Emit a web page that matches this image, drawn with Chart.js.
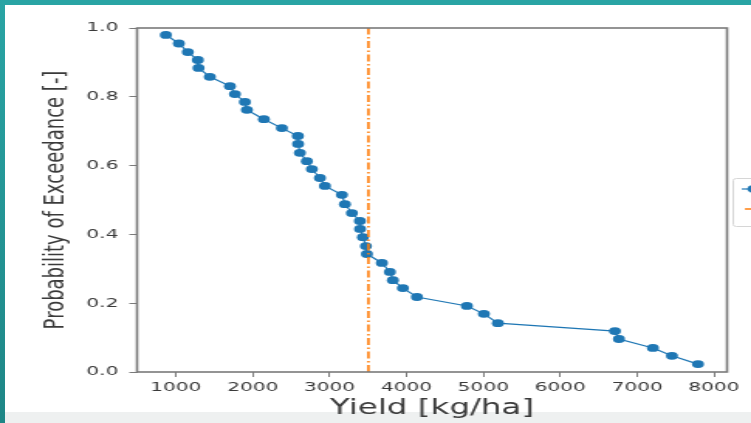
<!DOCTYPE html>
<html>
<head>
<meta charset="utf-8">
<script src="https://cdn.jsdelivr.net/npm/chart.js@4.4.1/dist/chart.umd.min.js"></script>
<style>
  html, body { margin: 0; padding: 0; width: 751px; height: 423px; overflow: hidden; background: #fff; }
  .band { position: absolute; }
  #top { left: 0; top: 0; width: 751px; height: 5px; background: #29a4a4; z-index: 2; }
  #left { left: 0; top: 0; width: 5px; height: 423px; background: linear-gradient(#29a4a4, #1e8686); z-index: 2; }
  #bottom { left: 5px; top: 412px; width: 746px; height: 11px; background: #eef0f0; z-index: 0; }
  /* the source picture is a matplotlib figure stretched sideways, so the canvas is too */
  #wrap { position: absolute; left: 0; top: 0; width: 485px; height: 423px; transform: scaleX(1.5485); transform-origin: 0 0; z-index: 1; }
</style>
</head>
<body>
<div class="band" id="bottom"></div>
<div id="wrap"><canvas id="chart" width="485" height="423"></canvas></div>
<div class="band" id="top"></div>
<div class="band" id="left"></div>
<script>
const yields = [870, 1039, 1156, 1286, 1295, 1442, 1703, 1768, 1898, 1924,
  2145, 2379, 2587, 2590, 2613, 2704, 2769, 2874, 2939, 3160,
  3199, 3290, 3394, 3396, 3433, 3472, 3485, 3680, 3784, 3823,
  3953, 4136, 4786, 5007, 5189, 6712, 6764, 7206, 7453, 7792]
const exceedance = [0.980, 0.955, 0.930, 0.907, 0.884, 0.858, 0.831, 0.808, 0.785, 0.762,
  0.735, 0.709, 0.686, 0.663, 0.637, 0.613, 0.590, 0.564, 0.541, 0.515,
  0.488, 0.462, 0.439, 0.416, 0.392, 0.366, 0.343, 0.317, 0.291, 0.267,
  0.244, 0.218, 0.192, 0.169, 0.142, 0.119, 0.096, 0.070, 0.047, 0.023]
const meanYield = 3505
const xTicks = [1000, 2000, 3000, 4000, 5000, 6000, 7000, 8000]
const yTicks = [0, 0.2, 0.4, 0.6, 0.8, 1.0]

const textColor = "#3a3a3a"
const spineColor = "#7a7a7a"
const blue = "#1f77b4"
const orange = "#ff7f0e"

// top and right spines, drawn over the data like matplotlib does
const framePlugin = {
  id: "frame",
  afterDraw(chart) {
    const { ctx, chartArea: a } = chart
    ctx.save()
    ctx.strokeStyle = spineColor
    ctx.lineWidth = 1.6
    ctx.strokeRect(a.left, a.top, a.right - a.left, a.bottom - a.top)
    ctx.restore()
  },
}

// legend sits past the right edge of the picture, only its start shows
const legendStub = {
  id: "legendStub",
  afterDraw(chart) {
    const { ctx } = chart
    ctx.save()
    ctx.fillStyle = "rgba(255,255,255,0.85)"
    ctx.strokeStyle = "#d6d6d6"
    ctx.lineWidth = 1
    ctx.beginPath()
    ctx.roundRect(473.5, 178.5, 40, 48, 2)
    ctx.fill()
    ctx.stroke()
    chart.data.datasets.forEach((ds, i) => {
      const y = 189 + i * 20
      ctx.strokeStyle = ds.borderColor
      ctx.lineWidth = ds.borderWidth
      ctx.setLineDash(ds.borderDash || [])
      ctx.beginPath()
      ctx.moveTo(479 + i * 2, y)
      ctx.lineTo(495, y)
      ctx.stroke()
      if (ds.pointRadius) {
        ctx.fillStyle = ds.pointBackgroundColor
        ctx.beginPath()
        ctx.arc(486.5, y, ds.pointRadius, 0, Math.PI * 2)
        ctx.fill()
      }
    })
    ctx.restore()
  },
}

new Chart(document.getElementById("chart"), {
  type: "scatter",
  data: {
    datasets: [
      {
        label: "Yield",
        data: yields.map((x, i) => ({ x, y: exceedance[i] })),
        showLine: true,
        borderColor: blue,
        borderWidth: 1.2,
        pointRadius: 3.9,
        pointBackgroundColor: blue,
        pointBorderColor: blue,
        pointBorderWidth: 0,
        order: 1,
      },
      {
        label: "Mean",
        data: [{ x: meanYield, y: 0 }, { x: meanYield, y: 1 }],
        showLine: true,
        borderColor: orange,
        borderWidth: 1.6,
        borderDash: [7, 2.5, 1.5, 2.5],
        pointRadius: 0,
        order: 0,
      },
    ],
  },
  plugins: [framePlugin, legendStub],
  options: {
    responsive: false,
    animation: false,
    devicePixelRatio: 1,
    layout: { padding: { left: 0, right: 15.5, top: 28, bottom: 0 } },
    scales: {
      x: {
        type: "linear",
        min: 495,
        max: 8170,
        afterBuildTicks: s => { s.ticks = xTicks.map(v => ({ value: v })) },
        afterFit: s => { s.height = 51 },
        border: { display: false },
        grid: { drawOnChartArea: false, drawTicks: true, tickLength: 5, color: spineColor, lineWidth: 1 },
        ticks: { color: textColor, font: { family: "DejaVu Sans", size: 13 }, padding: 3, maxRotation: 0, autoSkip: false, callback: v => String(v) },
        title: { display: true, text: "Yield [kg/ha]", color: textColor, font: { family: "DejaVu Sans", size: 21, lineHeight: 1.2 }, padding: { top: 0, bottom: 2 } },
      },
      y: {
        min: 0,
        max: 1,
        afterBuildTicks: s => { s.ticks = yTicks.map(v => ({ value: v })) },
        afterFit: s => { s.width = 88.5 },
        border: { display: false },
        grid: { drawOnChartArea: false, drawTicks: true, tickLength: 5, color: spineColor, lineWidth: 1 },
        ticks: { color: textColor, font: { family: "DejaVu Sans", size: 13 }, padding: 7, callback: v => v.toFixed(1) },
        title: { display: true, text: "Probability of Exceedance [-]", color: textColor, font: { family: "DejaVu Sans", size: 18, lineHeight: 1.2 }, padding: { top: 26, bottom: 0 } },
      },
    },
    plugins: {
      legend: { display: false },
      tooltip: { enabled: false },
    },
  },
})
</script>
</body>
</html>
